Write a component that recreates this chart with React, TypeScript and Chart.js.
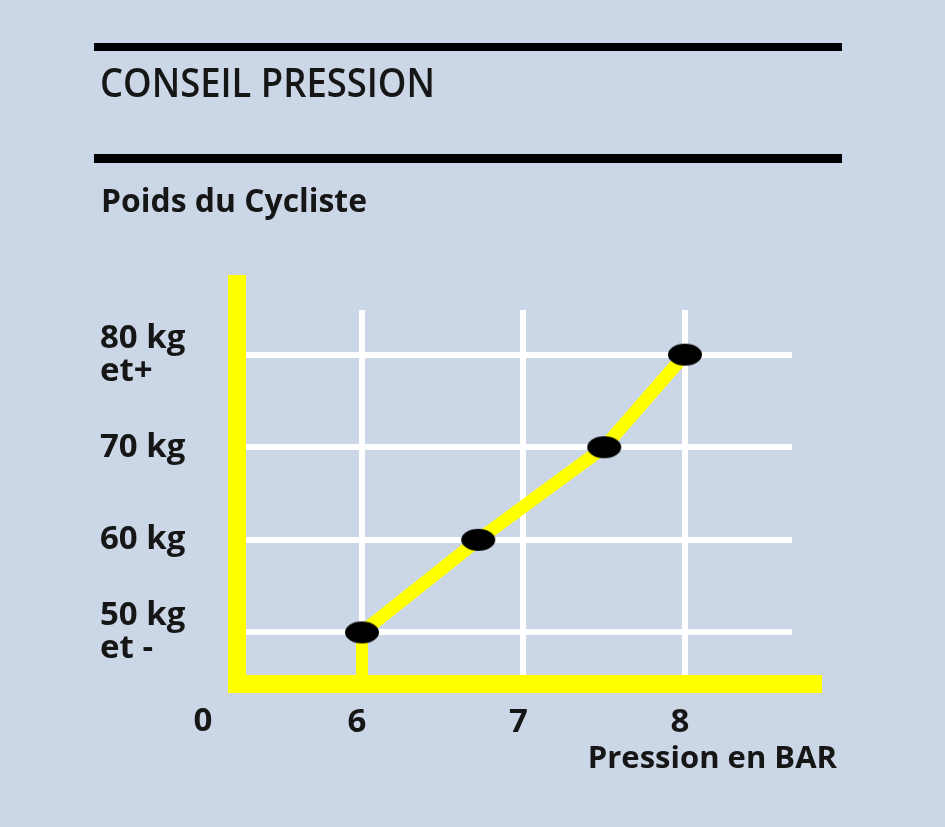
import React, { useEffect, useRef } from 'react';
import { Chart, registerables } from 'chart.js';

Chart.register(...registerables);

// Recommended tyre pressure (bar) for each rider weight (kg)
const PRESSURES = [6, 6.72, 7.5, 8];
const WEIGHTS = [50, 60, 70, 80];

// Axis ticks and their labels
const X_TICKS = [6, 7, 8];
const Y_TICKS = [50, 60, 70, 80];
const Y_TICK_LABELS = [['50 kg', 'et -'], ['60 kg'], ['70 kg'], ['80 kg', 'et+']];
const ORIGIN_LABEL = '0';

const TITLE = 'CONSEIL PRESSION';
const Y_TITLE = 'Poids du Cycliste';
const X_TITLE = 'Pression en BAR';

// Visible scale ranges
const X_MIN = 5.226;
const X_MAX = 8.663;
const Y_MIN = 44.43;
const Y_MAX = 84.82;

const BG = '#cbd7e7';
const YELLOW = '#ffff00';
const INK = '#161616';
const FONT = '"Open Sans", "Liberation Sans", sans-serif';

function makeEllipse(): HTMLCanvasElement {
  const c = document.createElement('canvas');
  c.width = 38;
  c.height = 26;
  const g = c.getContext('2d')!;
  g.fillStyle = '#000';
  g.filter = 'blur(0.6px)';
  g.beginPath();
  g.ellipse(19, 13, 17, 11, 0, 0, Math.PI * 2);
  g.fill();
  return c;
}

const decorPlugin = {
  id: 'decor',
  beforeDraw(chart: any) {
    const ctx = chart.ctx as CanvasRenderingContext2D;
    ctx.save();
    ctx.fillStyle = BG;
    ctx.fillRect(0, 0, chart.width, chart.height);

    // header rules
    ctx.fillStyle = '#000';
    ctx.fillRect(94, 43, 748, 8);
    ctx.fillRect(94, 154, 748, 9);

    ctx.fillStyle = INK;
    ctx.textAlign = 'left';
    ctx.textBaseline = 'alphabetic';
    ctx.font = `600 40px ${FONT}`;
    ctx.fillText(TITLE, 100, 97, 335);
    ctx.font = `700 32px ${FONT}`;
    ctx.fillText(Y_TITLE, 101, 212, 266);
    ctx.restore();
  },
  beforeDatasetsDraw(chart: any) {
    const ctx = chart.ctx as CanvasRenderingContext2D;
    const area = chart.chartArea;
    ctx.save();
    // drop line from the first point to the pressure axis
    const first = chart.getDatasetMeta(0).data[0];
    ctx.strokeStyle = YELLOW;
    ctx.lineWidth = 12;
    ctx.beginPath();
    ctx.moveTo(first.x, first.y);
    ctx.lineTo(first.x, area.bottom);
    ctx.stroke();

    // thick yellow axes
    ctx.fillStyle = YELLOW;
    ctx.fillRect(area.left - 9, area.top - 35, 18, area.bottom - area.top + 44);
    ctx.fillRect(area.left - 9, area.bottom - 9, area.right - area.left + 39, 18);

    // origin and pressure axis title
    ctx.fillStyle = INK;
    ctx.font = `700 33px ${FONT}`;
    ctx.textAlign = 'center';
    ctx.textBaseline = 'middle';
    ctx.fillText(ORIGIN_LABEL, area.left - 34, area.bottom + 38);
    ctx.font = `700 31px ${FONT}`;
    ctx.textAlign = 'right';
    ctx.textBaseline = 'alphabetic';
    ctx.fillText(X_TITLE, area.right + 45, area.bottom + 84, 254);
    ctx.restore();
  },
};

export default function App() {
  const ref = useRef<HTMLCanvasElement | null>(null);

  useEffect(() => {
    if (!ref.current) return;
    const tickFont = { family: FONT, weight: '700' as const, size: 33, lineHeight: 1.0 };
    const chart = new Chart(ref.current, {
      type: 'line',
      data: {
        datasets: [
          {
            data: PRESSURES.map((p, i) => ({ x: p, y: WEIGHTS[i] })),
            borderColor: YELLOW,
            borderWidth: 13,
            pointStyle: makeEllipse(),
            pointRadius: 12,
            tension: 0,
            fill: false,
          },
        ],
      },
      options: {
        animation: false,
        responsive: false,
        devicePixelRatio: 1,
        layout: { padding: { left: 100, right: 153, top: 310, bottom: 83 } },
        plugins: { legend: { display: false }, tooltip: { enabled: false } },
        scales: {
          x: {
            type: 'linear',
            min: X_MIN,
            max: X_MAX,
            afterBuildTicks: (s: any) => {
              s.ticks = X_TICKS.map((v) => ({ value: v }));
            },
            afterFit: (s: any) => {
              s.height = 60;
            },
            grid: { color: '#ffffff', lineWidth: 6, drawTicks: false },
            border: { display: false },
            ticks: {
              color: INK,
              font: tickFont,
              padding: 22,
              labelOffset: -5,
              callback: (v: any) => String(v),
            },
          },
          y: {
            type: 'linear',
            min: Y_MIN,
            max: Y_MAX,
            afterBuildTicks: (s: any) => {
              s.ticks = Y_TICKS.map((v) => ({ value: v }));
            },
            afterFit: (s: any) => {
              s.width = 137;
            },
            grid: { color: '#ffffff', lineWidth: 6, drawTicks: false },
            border: { display: false },
            ticks: {
              color: INK,
              font: tickFont,
              padding: 0,
              crossAlign: 'far',
              callback: (_v: any, i: number) => Y_TICK_LABELS[i],
            },
          },
        },
      },
      plugins: [decorPlugin],
    });
    return () => chart.destroy();
  }, []);

  return (
    <div style={{ position: 'fixed', left: 0, top: 0, width: 945, height: 827, background: BG }}>
      <canvas ref={ref} width={945} height={827} style={{ width: 945, height: 827, display: 'block' }} />
    </div>
  );
}
